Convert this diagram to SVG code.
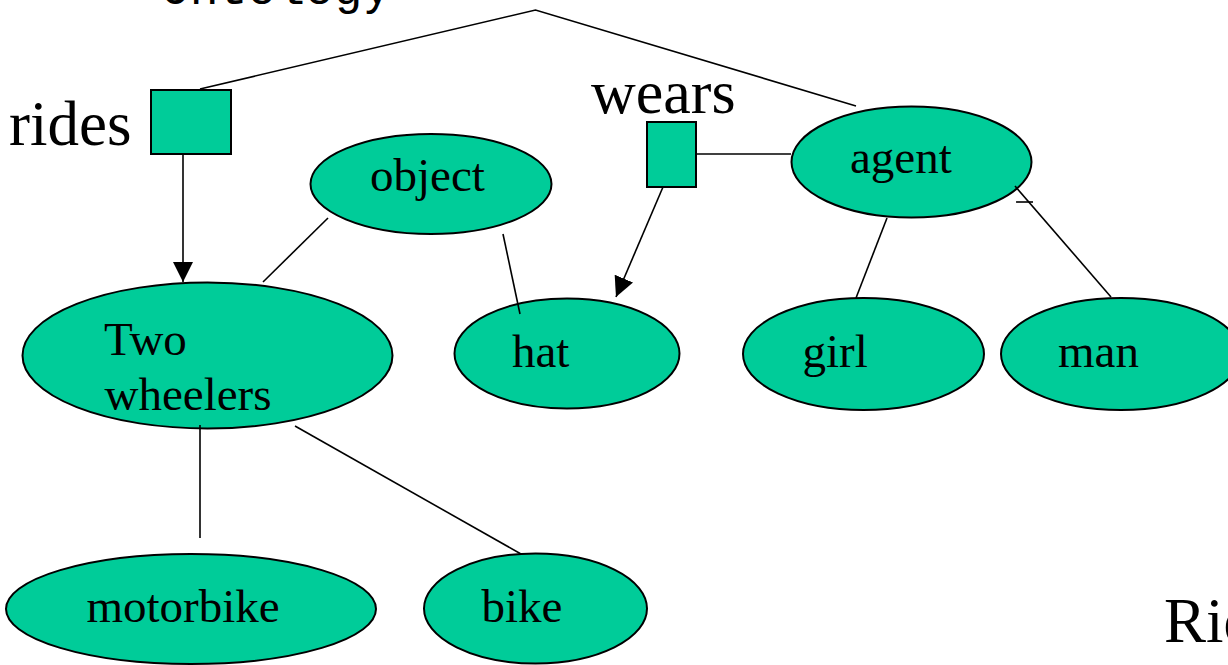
<svg xmlns="http://www.w3.org/2000/svg" width="1228" height="665" viewBox="0 0 1228 665">
  <style>
    .node { fill: #00CC99; stroke: #000; stroke-width: 2; }
    .lbl { font-family: "Liberation Serif", "Times New Roman", serif; font-size: 47px; fill: #000; }
    .rel { font-family: "Liberation Serif", "Times New Roman", serif; font-size: 63px; fill: #000; }
    .title { font-family: "Liberation Mono", "Courier New", monospace; font-size: 48px; fill: #000; }
    .edge { fill: none; stroke: #000; stroke-width: 1.6; }
  </style>
  <defs>
    <marker id="arrow" markerUnits="userSpaceOnUse" markerWidth="20" markerHeight="20" refX="20" refY="10" orient="auto">
      <path d="M0,0 L20,10 L0,20 z" fill="#000"/>
    </marker>
  </defs>
  <rect width="1228" height="665" fill="#fff"/>

  <text class="title" x="161" y="4">Ontology</text>

  <g id="rides">
    <rect class="node" x="151" y="90" width="80" height="64"/>
    <text class="rel" x="9" y="145">rides</text>
  </g>
  <g id="wears">
    <rect class="node" x="647" y="122" width="49" height="65"/>
    <text class="rel" x="591" y="113" style="font-size:62px">wears</text>
  </g>
  <g id="object">
    <ellipse class="node" cx="431" cy="184" rx="120.5" ry="50"/>
    <text class="lbl" x="370" y="191">object</text>
  </g>
  <g id="agent">
    <ellipse class="node" cx="911.5" cy="162" rx="120" ry="55.5"/>
    <text class="lbl" x="850" y="173">agent</text>
  </g>
  <g id="two-wheelers">
    <ellipse class="node" cx="207.5" cy="355.5" rx="185" ry="73"/>
    <text class="lbl" x="104" y="355">Two</text>
    <text class="lbl" x="104.5" y="410">wheelers</text>
  </g>
  <g id="hat">
    <ellipse class="node" cx="567" cy="353.5" rx="112.5" ry="55"/>
    <text class="lbl" x="512" y="367">hat</text>
  </g>
  <g id="girl">
    <ellipse class="node" cx="863.5" cy="354" rx="120.5" ry="56"/>
    <text class="lbl" x="802.5" y="367">girl</text>
  </g>
  <g id="man">
    <ellipse class="node" cx="1121" cy="354" rx="120" ry="56"/>
    <text class="lbl" x="1058" y="367">man</text>
  </g>
  <g id="motorbike">
    <ellipse class="node" cx="191" cy="609" rx="185" ry="55"/>
    <text class="lbl" x="86.5" y="622">motorbike</text>
  </g>
  <g id="bike">
    <ellipse class="node" cx="535.5" cy="608.5" rx="111.5" ry="55"/>
    <text class="lbl" x="481.5" y="622">bike</text>
  </g>

  <text class="rel" x="1164" y="642">Rides</text>

  <g id="connectors">
    <polyline class="edge" points="200,89 535.5,10 856,106"/>
    <line class="edge" x1="183" y1="154" x2="183" y2="282" marker-end="url(#arrow)"/>
    <line class="edge" x1="663" y1="187" x2="616" y2="297" marker-end="url(#arrow)"/>
    <line class="edge" x1="696" y1="154" x2="791" y2="154"/>
    <line class="edge" x1="887" y1="218" x2="856" y2="298"/>
    <line class="edge" x1="1015" y1="186" x2="1111" y2="297"/>
    <line class="edge" x1="1016" y1="202" x2="1033" y2="202"/>
    <line class="edge" x1="328" y1="218" x2="263" y2="282"/>
    <line class="edge" x1="503" y1="234" x2="520" y2="314"/>
    <line class="edge" x1="200" y1="425" x2="200" y2="538"/>
    <line class="edge" x1="295" y1="426" x2="521" y2="554"/>
  </g>
</svg>
